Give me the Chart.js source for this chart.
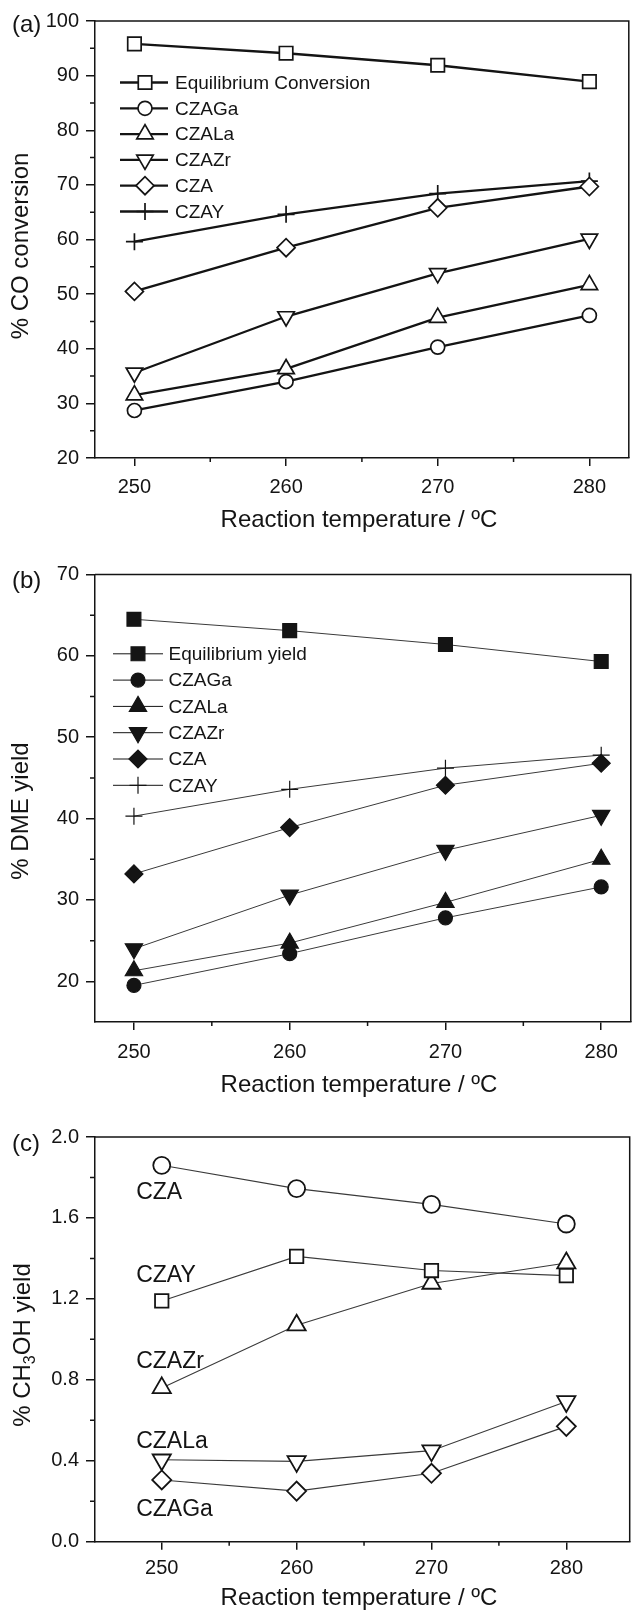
<!DOCTYPE html>
<html>
<head>
<meta charset="utf-8">
<script src="https://cdn.jsdelivr.net/npm/chart.js@4.4.1/dist/chart.umd.min.js"></script>
<style>
  html, body { margin: 0; padding: 0; background: #fff; }
  body { width: 640px; height: 1611px; position: relative; overflow: hidden; }
  canvas { position: absolute; left: 0; }
</style>
</head>
<body>
<canvas id="chartA" width="640" height="545" style="top:0px"></canvas>
<canvas id="chartB" width="642" height="555" style="top:545px"></canvas>
<canvas id="chartC" width="642" height="511" style="top:1100px"></canvas>
<script>
// reaction temperatures (ºC)
const temps = [250, 260, 270, 280];
const xTicks = [250, 260, 270, 280];
const xMinor = [255, 265, 275];

// (a) % CO conversion
const coEquilibrium = [95.8, 94.1, 91.9, 88.9];
const coCZAGa = [28.7, 34.0, 40.3, 46.1];
const coCZALa = [31.5, 36.3, 45.7, 51.7];
const coCZAZr = [35.6, 45.9, 53.8, 60.1];
const coCZA = [50.5, 58.5, 65.8, 69.7];
const coCZAY = [59.6, 64.6, 68.4, 70.7];
const yTicksA = [20, 30, 40, 50, 60, 70, 80, 90, 100];
const yMinorA = [25, 35, 45, 55, 65, 75, 85, 95];

// (b) % DME yield
const dmeEquilibrium = [64.5, 63.1, 61.4, 59.3];
const dmeCZAGa = [19.5, 23.4, 27.8, 31.6];
const dmeCZALa = [21.3, 24.7, 29.7, 35.0];
const dmeCZAZr = [24.0, 30.6, 36.1, 40.4];
const dmeCZA = [33.2, 38.9, 44.1, 46.8];
const dmeCZAY = [40.3, 43.6, 46.2, 47.8];
const yTicksB = [20, 30, 40, 50, 60, 70];
const yMinorB = [25, 35, 45, 55, 65];

// (c) % CH3OH yield
const meohCZA = [1.86, 1.745, 1.667, 1.57];
const meohCZAY = [1.19, 1.41, 1.34, 1.315];
const meohCZAZr = [0.76, 1.07, 1.276, 1.377];
const meohCZALa = [0.405, 0.397, 0.45, 0.693];
const meohCZAGa = [0.305, 0.25, 0.338, 0.57];
const yTicksC = [0, 0.4, 0.8, 1.2, 1.6, 2.0];
const yMinorC = [0.2, 0.6, 1.0, 1.4, 1.8];
const labelsC = ["CZA", "CZAY", "CZAZr", "CZALa", "CZAGa"];
const labelValuesC = [1.724, 1.313, 0.888, 0.492, 0.157];

const ink = "#141414";
const fontFamily = "'Liberation Sans', Arial, sans-serif";

function series(label, values, marker, look) {
  return {
    label,
    data: temps.map((t, i) => ({ x: t, y: values[i] })),
    borderColor: look.line,
    borderWidth: look.lineWidth,
    pointStyle: marker[0],
    pointRadius: marker[1],
    pointRotation: marker[2] || 0,
    pointBackgroundColor: look.fill,
    pointBorderColor: ink,
    pointBorderWidth: look.markerWidth,
    pointHoverRadius: marker[1],
    tension: 0,
    fill: false
  };
}

function xAxis(min, max, height, pad) {
  return {
    type: "linear", min, max,
    afterFit: s => { s.height = height; },
    afterBuildTicks: s => { s.ticks = xTicks.map(v => ({ value: v })); },
    ticks: { padding: pad, color: ink, font: { family: fontFamily, size: 20 }, callback: v => String(v) },
    grid: { drawOnChartArea: false, tickLength: 8, color: ink, lineWidth: 1.5 },
    border: { color: ink, width: 1.5 }
  };
}

function yAxis(min, max, ticks, fmt) {
  return {
    type: "linear", min, max,
    afterFit: s => { s.width = 95; },
    afterBuildTicks: s => { s.ticks = ticks.map(v => ({ value: v })); },
    ticks: { padding: 7, color: ink, font: { family: fontFamily, size: 20 }, callback: fmt },
    grid: { drawOnChartArea: false, tickLength: 9, color: ink, lineWidth: 1.5 },
    border: { color: ink, width: 1.5 }
  };
}

function drawMarker(ctx, ds, x, y) {
  ctx.fillStyle = ds.pointBackgroundColor;
  ctx.strokeStyle = ds.pointBorderColor;
  ctx.lineWidth = ds.pointBorderWidth;
  Chart.helpers.drawPoint(ctx, {
    pointStyle: ds.pointStyle, rotation: ds.pointRotation,
    radius: ds.pointRadius, borderWidth: ds.pointBorderWidth
  }, x, y);
}

const decorPlugin = {
  id: "decor",
  afterDraw(chart, args, o) {
    const { ctx, chartArea: a, scales } = chart;
    ctx.save();
    // top and right frame
    ctx.strokeStyle = ink;
    ctx.lineWidth = 1.5;
    ctx.beginPath();
    ctx.moveTo(a.left, a.top);
    ctx.lineTo(a.right, a.top);
    ctx.lineTo(a.right, a.bottom);
    ctx.stroke();
    // minor ticks
    ctx.beginPath();
    xMinor.forEach(v => {
      const px = scales.x.getPixelForValue(v);
      ctx.moveTo(px, a.bottom); ctx.lineTo(px, a.bottom + 4);
    });
    o.yMinor.forEach(v => {
      const py = scales.y.getPixelForValue(v);
      ctx.moveTo(a.left - 5, py); ctx.lineTo(a.left, py);
    });
    ctx.stroke();

    ctx.fillStyle = ink;
    ctx.textBaseline = "middle";
    // panel letter
    ctx.font = "24px " + fontFamily;
    ctx.textAlign = "left";
    ctx.fillText(o.letter, 12, o.letterY);
    // x title
    ctx.textAlign = "center";
    ctx.fillText("Reaction temperature / ºC", 359, a.bottom + o.xTitleGap);
    // y title (rotated), with optional subscript part
    ctx.translate(o.yTitleX, o.yTitleY);
    ctx.rotate(-Math.PI / 2);
    ctx.textAlign = "left";
    const parts = o.yTitle;
    const widths = parts.map(p => {
      ctx.font = (p.sub ? "16px " : "24px ") + fontFamily;
      return ctx.measureText(p.t).width;
    });
    let cx = -widths.reduce((s, w) => s + w, 0) / 2;
    parts.forEach((p, i) => {
      ctx.font = (p.sub ? "16px " : "24px ") + fontFamily;
      ctx.fillText(p.t, cx, p.sub ? 8 : 0);
      cx += widths[i];
    });
    ctx.restore();

    // legend
    if (o.legend) {
      const L = o.legend;
      ctx.save();
      chart.data.datasets.forEach((ds, i) => {
        const y = L.top + i * L.step;
        ctx.strokeStyle = ink;
        ctx.lineWidth = L.lineWidth;
        ctx.beginPath();
        ctx.moveTo(L.x1, y); ctx.lineTo(L.x2, y);
        ctx.stroke();
        drawMarker(ctx, ds, L.xm, y);
        ctx.fillStyle = ink;
        ctx.font = L.font + "px " + fontFamily;
        ctx.textAlign = "left";
        ctx.textBaseline = "middle";
        ctx.fillText(ds.label, L.tx, y + 1);
      });
      ctx.restore();
    }

    // series labels placed on the plot
    if (o.seriesLabels) {
      ctx.save();
      ctx.fillStyle = ink;
      ctx.font = "23px " + fontFamily;
      ctx.textAlign = "left";
      ctx.textBaseline = "middle";
      const lx = scales.x.getPixelForValue(248.1);
      labelsC.forEach((t, i) => {
        ctx.fillText(t, lx, scales.y.getPixelForValue(labelValuesC[i]));
      });
      ctx.restore();
    }
  }
};

function baseOptions(padding, x, y, decor) {
  return {
    responsive: false,
    animation: false,
    events: [],
    layout: { padding },
    scales: { x, y },
    plugins: { legend: { display: false }, tooltip: { enabled: false }, decor }
  };
}

// ----- (a) -----
const lookA = { line: ink, lineWidth: 2.3, fill: "#fff", markerWidth: 1.7 };
new Chart(document.getElementById("chartA"), {
  type: "line",
  data: {
    datasets: [
      series("Equilibrium Conversion", coEquilibrium, ["rect", 9.5], lookA),
      series("CZAGa", coCZAGa, ["circle", 7], lookA),
      series("CZALa", coCZALa, ["triangle", 9.5], lookA),
      series("CZAZr", coCZAZr, ["triangle", 9.5, 180], lookA),
      series("CZA", coCZA, ["rectRot", 9], lookA),
      series("CZAY", coCZAY, ["cross", 8.5], lookA)
    ]
  },
  options: baseOptions({ top: 21, right: 2, left: 0, bottom: 0 },
    xAxis(247.4, 282.6, 87, 9),
    yAxis(20, 100, yTicksA, v => String(v)),
    {
      yMinor: yMinorA, letter: "(a)", letterY: 25, xTitleGap: 62,
      yTitleX: 21, yTitleY: 246, yTitle: [{ t: "% CO conversion" }],
      legend: { top: 82.5, step: 25.8, x1: 120, x2: 168, xm: 145, tx: 175, lineWidth: 2.3, font: 19 }
    }),
  plugins: [decorPlugin]
});

// ----- (b) -----
const lookB = { line: "#3a3a3a", lineWidth: 1, fill: ink, markerWidth: 1.2 };
new Chart(document.getElementById("chartB"), {
  type: "line",
  data: {
    datasets: [
      series("Equilibrium yield", dmeEquilibrium, ["rect", 9.8], lookB),
      series("CZAGa", dmeCZAGa, ["circle", 7], lookB),
      series("CZALa", dmeCZALa, ["triangle", 10], lookB),
      series("CZAZr", dmeCZAZr, ["triangle", 10, 180], lookB),
      series("CZA", dmeCZA, ["rectRot", 9], lookB),
      series("CZAY", dmeCZAY, ["cross", 8.5], lookB)
    ]
  },
  options: baseOptions({ top: 29.5, right: 1, left: 0, bottom: 0 },
    xAxis(247.5, 281.9, 78, 10),
    yAxis(15, 70, yTicksB, v => String(v)),
    {
      yMinor: yMinorB, letter: "(b)", letterY: 36, xTitleGap: 63,
      yTitleX: 21, yTitleY: 266, yTitle: [{ t: "% DME yield" }],
      legend: { top: 108.8, step: 26.3, x1: 113, x2: 163, xm: 138, tx: 168.5, lineWidth: 1, font: 19 }
    }),
  plugins: [decorPlugin]
});

// ----- (c) -----
const lookC = { line: "#3a3a3a", lineWidth: 1.1, fill: "#fff", markerWidth: 1.8 };
new Chart(document.getElementById("chartC"), {
  type: "line",
  data: {
    datasets: [
      series("CZA", meohCZA, ["circle", 8.5], lookC),
      series("CZAY", meohCZAY, ["rect", 9.5], lookC),
      series("CZAZr", meohCZAZr, ["triangle", 10.5], lookC),
      series("CZALa", meohCZALa, ["triangle", 10.5, 180], lookC),
      series("CZAGa", meohCZAGa, ["rectRot", 9.5], lookC)
    ]
  },
  options: baseOptions({ top: 37, right: 1, left: 0, bottom: 0 },
    xAxis(245.05, 284.7, 69.3, 6.3),
    yAxis(0, 2, yTicksC, v => v.toFixed(1)),
    {
      yMinor: yMinorC, letter: "(c)", letterY: 44, xTitleGap: 57,
      yTitleX: 23, yTitleY: 245,
      yTitle: [{ t: "% CH" }, { t: "3", sub: true }, { t: "OH yield" }],
      seriesLabels: true
    }),
  plugins: [decorPlugin]
});
</script>
</body>
</html>
